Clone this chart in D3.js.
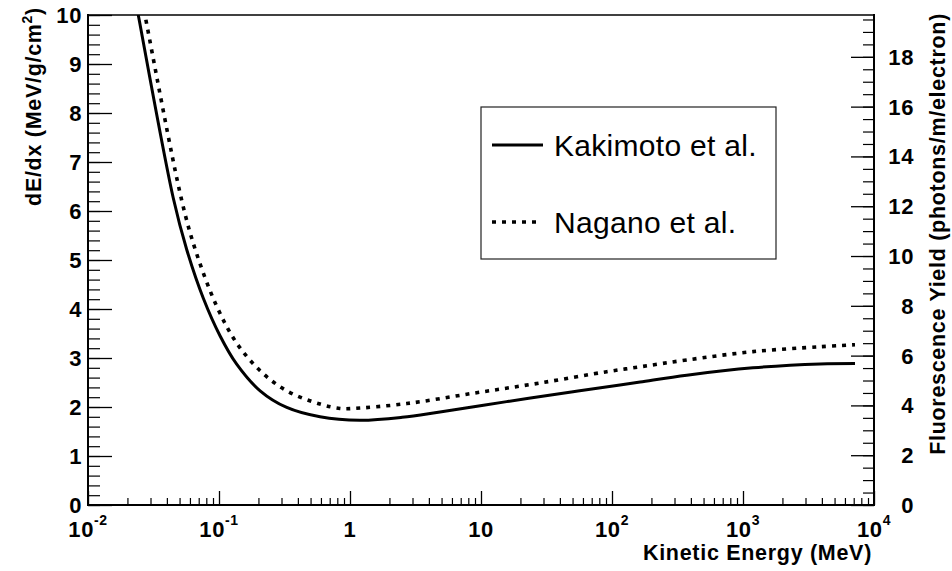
<!DOCTYPE html>
<html>
<head>
<meta charset="utf-8">
<script src="https://cdn.jsdelivr.net/npm/d3@7"></script>
<style>
  html, body { margin: 0; padding: 0; background: #fff; }
  svg { display: block; }
  text { font-family: "Liberation Sans", Arial, Helvetica, sans-serif; fill: #000; }
</style>
</head>
<body>
<svg id="chart" width="952" height="571"></svg>
<script>
// ---- data ----
const kakimotoE = [0.022, 0.0242, 0.0448, 0.0566, 0.0759, 0.102, 0.136, 0.206, 0.329, 0.59,
                   1.19, 2.5, 4.86, 15.7, 50.4, 115, 164, 372, 1190, 3873, 7160];
const kakimotoV = [10.6, 10.0, 6.26, 5.22, 4.22, 3.45, 2.88, 2.33, 1.99, 1.80,
                   1.73, 1.79, 1.90, 2.11, 2.31, 2.45, 2.51, 2.65, 2.80, 2.88, 2.89];
const naganoE = [0.025, 0.0272, 0.0519, 0.0667, 0.0959, 0.136, 0.206, 0.329, 0.59, 0.84,
                 1.05, 2.71, 8.69, 28.2, 91.2, 164, 372, 1190, 3873, 7160];
const naganoV = [10.5, 10.0, 6.22, 5.17, 4.06, 3.31, 2.74, 2.33, 2.06, 1.97,
                 1.97, 2.07, 2.28, 2.49, 2.72, 2.82, 2.96, 3.13, 3.23, 3.27];
const seriesNames = ["Kakimoto et al.", "Nagano et al."];
const xTickValues = [0.01, 0.1, 1, 10, 100, 1000, 10000];
const xTickBase   = ["10", "10", "1", "10", "10", "10", "10"];
const xTickExp    = ["-2", "-1", "", "", "2", "3", "4"];
const yTicks  = [0, 1, 2, 3, 4, 5, 6, 7, 8, 9, 10];
const y2Ticks = [0, 2, 4, 6, 8, 10, 12, 14, 16, 18];
const xTitle = "Kinetic Energy (MeV)";
const yTitleMain = "dE/dx (MeV/g/cm";
const yTitleSup = "2";
const y2Title = "Fluorescence Yield (photons/m/electron)";
const yMax = 10, y2Max = 19.68;

// ---- layout ----
const svg = d3.select("#chart");
const L = 88, R = 874, T = 15, B = 505;
const x = d3.scaleLog().domain([0.01, 10000]).range([L, R]);
const y = d3.scaleLinear().domain([0, yMax]).range([B, T]);
const y2 = d3.scaleLinear().domain([0, y2Max]).range([B, T]);
const TICKFS = 22, TICKLS = "0.6px";
const TITLEFS = 21.5, TITLELS = "0.7px";

// clip
svg.append("defs").append("clipPath").attr("id", "clip")
  .append("rect").attr("x", L).attr("y", T).attr("width", R - L).attr("height", B - T);

// curves
const line = d3.line().x(d => x(d[0])).y(d => y(d[1])).curve(d3.curveCatmullRom.alpha(0.5));
const g = svg.append("g").attr("clip-path", "url(#clip)");
g.append("path").datum(kakimotoE.map((e, i) => [e, kakimotoV[i]]))
  .attr("d", line).attr("fill", "none").attr("stroke", "#000").attr("stroke-width", 3);
g.append("path").datum(naganoE.map((e, i) => [e, naganoV[i]]))
  .attr("d", line).attr("fill", "none").attr("stroke", "#000").attr("stroke-width", 3.6)
  .attr("stroke-dasharray", "4 6");

// frame top
svg.append("line").attr("x1", L).attr("x2", R).attr("y1", T).attr("y2", T)
  .attr("stroke", "#000").attr("stroke-width", 1.5);

// left axis
const yMinor = d3.range(0, yMax + 0.001, 0.2);
svg.append("g").attr("transform", `translate(${L},0)`)
  .call(d3.axisRight(y).tickValues(yMinor).tickSize(12).tickFormat(""))
  .call(a => a.select(".domain").remove())
  .selectAll("line").attr("stroke", "#000").attr("stroke-width", 1.2);
svg.append("g").attr("transform", `translate(${L},0)`)
  .call(d3.axisRight(y).tickValues(yTicks).tickSize(24).tickFormat(""))
  .call(a => a.select(".domain").remove())
  .selectAll("line").attr("stroke", "#000").attr("stroke-width", 1.3);
svg.append("line").attr("x1", L).attr("x2", L).attr("y1", T - 1).attr("y2", B + 1)
  .attr("stroke", "#000").attr("stroke-width", 2);
svg.append("g").selectAll("text").data(yTicks).join("text")
  .attr("x", 82).attr("y", d => y(d)).attr("dy", "0.36em")
  .attr("text-anchor", "end").attr("font-size", TICKFS).attr("font-weight", "bold")
  .style("letter-spacing", TICKLS).text(d => d);

// bottom axis
const xMinor = [];
for (let p = -2; p < 4; p++) for (let k = 2; k <= 9; k++) xMinor.push(k * Math.pow(10, p));
svg.append("g").attr("transform", `translate(0,${B})`)
  .call(d3.axisTop(x).tickValues(xMinor).tickSize(7).tickFormat(""))
  .call(a => a.select(".domain").remove())
  .selectAll("line").attr("stroke", "#000").attr("stroke-width", 1.2);
svg.append("g").attr("transform", `translate(0,${B})`)
  .call(d3.axisTop(x).tickValues(xTickValues).tickSize(14).tickFormat(""))
  .call(a => a.select(".domain").remove())
  .selectAll("line").attr("stroke", "#000").attr("stroke-width", 1.3);
svg.append("line").attr("x1", L - 1).attr("x2", R + 1).attr("y1", B).attr("y2", B)
  .attr("stroke", "#000").attr("stroke-width", 2);
const xl = svg.append("g").selectAll("text").data(xTickValues).join("text")
  .attr("x", d => x(d)).attr("y", 537)
  .attr("text-anchor", "middle").attr("font-size", TICKFS).attr("font-weight", "bold")
  .style("letter-spacing", TICKLS);
xl.append("tspan").text((d, i) => xTickBase[i]);
xl.append("tspan").attr("dy", -12).attr("font-size", 14).text((d, i) => xTickExp[i]);

// right axis
const y2Minor = d3.range(0, y2Max, 0.5);
svg.append("g").attr("transform", `translate(${R},0)`)
  .call(d3.axisLeft(y2).tickValues(y2Minor).tickSize(11).tickFormat(""))
  .call(a => a.select(".domain").remove())
  .selectAll("line").attr("stroke", "#000").attr("stroke-width", 1.2);
svg.append("g").attr("transform", `translate(${R},0)`)
  .call(d3.axisLeft(y2).tickValues(y2Ticks).tickSize(23).tickFormat(""))
  .call(a => a.select(".domain").remove())
  .selectAll("line").attr("stroke", "#000").attr("stroke-width", 1.3);
svg.append("line").attr("x1", R).attr("x2", R).attr("y1", T - 1).attr("y2", B + 1)
  .attr("stroke", "#000").attr("stroke-width", 2);
svg.append("g").selectAll("text").data(y2Ticks).join("text")
  .attr("x", 914).attr("y", d => y2(d)).attr("dy", "0.36em")
  .attr("text-anchor", "end").attr("font-size", TICKFS).attr("font-weight", "bold")
  .style("letter-spacing", TICKLS).text(d => d);

// titles
svg.append("text").attr("x", 872).attr("y", 560).attr("text-anchor", "end")
  .attr("font-size", TITLEFS).attr("font-weight", "bold").style("letter-spacing", TITLELS).text(xTitle);
const yt = svg.append("text").attr("transform", "translate(41,7) rotate(-90)")
  .attr("text-anchor", "end").attr("font-size", TITLEFS).attr("font-weight", "bold")
  .style("letter-spacing", TITLELS);
yt.append("tspan").text(yTitleMain);
yt.append("tspan").attr("dy", -9).attr("font-size", 14).text(yTitleSup);
yt.append("tspan").attr("dy", 9).text(")");
svg.append("text").attr("transform", "translate(945,13) rotate(-90)")
  .attr("text-anchor", "end").attr("font-size", TITLEFS).attr("font-weight", "bold")
  .style("letter-spacing", TITLELS).text(y2Title);

// legend
const lg = svg.append("g");
lg.append("rect").attr("x", 481).attr("y", 107).attr("width", 295).attr("height", 152)
  .attr("fill", "#fff").attr("stroke", "#222").attr("stroke-width", 1.2);
const legY = [145, 222];
lg.append("line").attr("x1", 492).attr("x2", 543).attr("y1", legY[0]).attr("y2", legY[0])
  .attr("stroke", "#000").attr("stroke-width", 3);
lg.append("line").attr("x1", 492).attr("x2", 541).attr("y1", legY[1]).attr("y2", legY[1])
  .attr("stroke", "#000").attr("stroke-width", 3.6).attr("stroke-dasharray", "4 6");
lg.selectAll("text.leg").data(seriesNames).join("text").attr("class", "leg")
  .attr("x", 554).attr("y", (d, i) => legY[i]).attr("dy", "0.36em")
  .attr("font-size", 30).style("letter-spacing", "0.3px").text(d => d);
</script>
</body>
</html>
